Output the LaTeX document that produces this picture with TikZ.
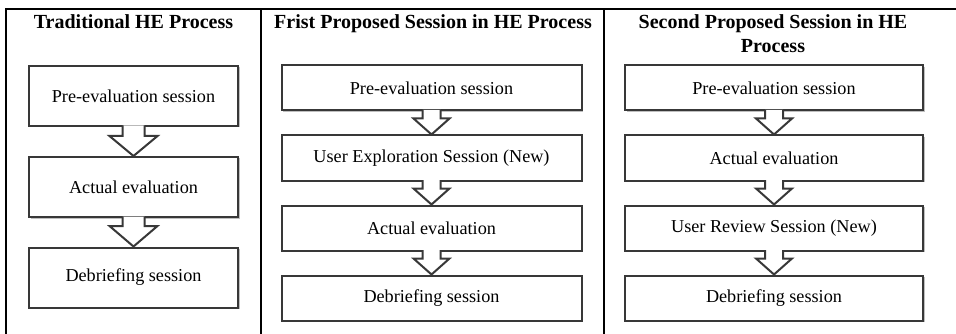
\documentclass[tikz,border=0pt]{standalone}
\usepackage{fontspec}
\setmainfont{Liberation Serif}
\usepackage{tikz}
\usetikzlibrary{calc, shadows}

\definecolor{boxline}{HTML}{383838}

\tikzset{
  sessbox/.style={draw=boxline, line width=2pt, fill=white, align=center,
    font=\fontsize{18.2}{20}\selectfont,
    drop shadow={shadow xshift=1.5pt, shadow yshift=-1.5pt, opacity=0.25, fill=black}},
  tradbox/.style={sessbox, minimum width=209pt, minimum height=60pt},
  propbox/.style={sessbox, minimum width=300pt, minimum height=45pt},
  flowarrow/.style={draw=boxline, line width=2pt, fill=white, line join=miter},
  coltitle/.style={font=\fontsize{20}{24}\selectfont\bfseries, align=center, anchor=base}
}

% outlined down arrow: from, to, stem half width, head half width, stem length
\newcommand{\flowdown}[5]{%
  \draw[flowarrow] ($(#1.south)+(-#3,-1.5)$) -- ($(#1.south)+(-#3,#5)$)
    -- ($(#1.south)+(-#4,#5)$) -- (#2.north) -- ($(#1.south)+(#4,#5)$)
    -- ($(#1.south)+(#3,#5)$) -- ($(#1.south)+(#3,-1.5)$);}

\begin{document}
\begin{tikzpicture}[x=1pt, y=-1pt]
    \useasboundingbox (0,0) rectangle (956,334);

    % Table frame
    \coordinate (topleft) at (6,9);
    \coordinate (topright) at (956,9);
    \coordinate (botleft) at (6,334);
    \coordinate (sepa) at (261,9);
    \coordinate (sepabot) at (261,334);
    \coordinate (sepb) at (604,9);
    \coordinate (sepbbot) at (604,334);
    \draw[line width=1.5pt] (botleft) -- (topleft) -- (topright);
    \draw[line width=1.5pt] (sepa) -- (sepabot);
    \draw[line width=1.5pt] (sepb) -- (sepbbot);

    % Column titles
    \node[coltitle] (tradtitle) at (133.5,29) {Traditional HE Process};
    \node[coltitle] (firsttitle) at (433,29) {Frist Proposed Session in HE Process};
    \node[coltitle] (secondtitle) at (773,53) {Second Proposed Session in HE\\Process};

    % Traditional process
    \node[tradbox] (trpre) at (133.5,96) {Pre-evaluation session};
    \node[tradbox] (tract) at (133.5,187) {Actual evaluation};
    \node[tradbox] (trdeb) at (133.5,277.5) {Debriefing session};

    \flowdown{trpre}{tract}{11}{24}{9}
    \flowdown{tract}{trdeb}{11}{24}{8}

    % First proposed process
    \node[propbox] (fpre) at (431.5,88) {Pre-evaluation session};
    \node[propbox] (fexp) at (431.5,158) {User Exploration Session (New)};
    \node[propbox] (fact) at (431.5,228) {Actual evaluation};
    \node[propbox] (fdeb) at (431.5,298) {Debriefing session};

    \flowdown{fpre}{fexp}{9}{18}{7}
    \flowdown{fexp}{fact}{9}{18}{7}
    \flowdown{fact}{fdeb}{9}{18}{7}

    % Second proposed process
    \node[propbox, minimum width=298pt] (spre) at (774,88) {Pre-evaluation session};
    \node[propbox, minimum width=298pt] (sact) at (774,158) {Actual evaluation};
    \node[propbox, minimum width=298pt] (srev) at (774,228) {User Review Session (New)};
    \node[propbox, minimum width=298pt] (sdeb) at (774,298) {Debriefing session};

    \flowdown{spre}{sact}{9}{18}{7}
    \flowdown{sact}{srev}{9}{18}{7}
    \flowdown{srev}{sdeb}{9}{18}{7}
\end{tikzpicture}
\end{document}
